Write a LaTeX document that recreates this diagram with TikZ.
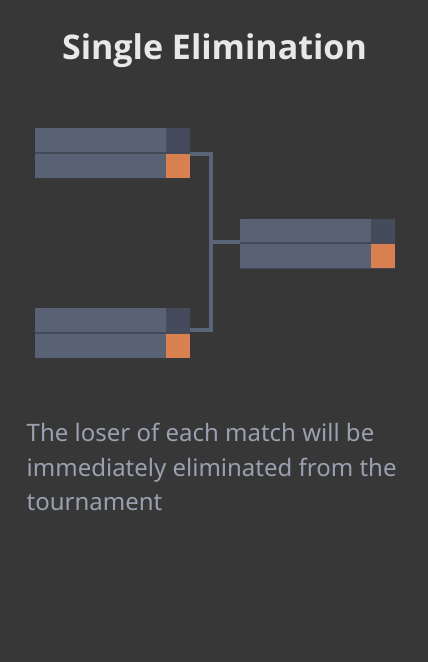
\documentclass[tikz,border=0pt]{standalone}
\usepackage{fontspec}
\setmainfont{Noto Sans}
\newfontfamily\titlefont{Open Sans}
\definecolor{bg}{HTML}{373737}
\definecolor{slot}{HTML}{596174}
\definecolor{scoredark}{HTML}{454B5A}
\definecolor{boxedge}{HTML}{454A58}
\definecolor{win}{HTML}{D8804F}
\definecolor{wire}{HTML}{5A6479}
\definecolor{titlec}{HTML}{E8E8E8}
\definecolor{bodyc}{HTML}{9AA0B0}
\tikzset{
  matchbox/.style={fill=boxedge, rounded corners=1pt, inner sep=0pt, minimum width=155pt, minimum height=50pt, anchor=north west},
  slotbox/.style={fill=slot, inner sep=0pt, minimum width=131pt, minimum height=23.5pt, anchor=north west},
  scorebox/.style={fill=scoredark, inner sep=0pt, minimum width=24pt, minimum height=23.5pt, anchor=north west},
  winbox/.style={fill=win, inner sep=0pt, minimum width=24pt, minimum height=23.7pt, anchor=north west},
  wireline/.style={draw=wire, line width=4pt},
  titletext/.style={text=titlec, font=\titlefont\bfseries\fontsize{34}{40}\selectfont, inner sep=0pt, anchor=base},
  bodytext/.style={text=bodyc, font=\fontsize{24}{30}\selectfont, inner sep=0pt, anchor=base west}
}
\begin{document}
\begin{tikzpicture}[x=1pt,y=-1pt]
\fill[bg] (0,0) rectangle (428,662);
\useasboundingbox (0,0) rectangle (428,662);
\node[titletext] (title) at (214.5,59.3) {Single Elimination};
% match 1
\node[matchbox] (m1) at (35,128) {};
\node[slotbox] (m1a) at (35,128) {};
\node[scorebox] (m1as) at (166,128) {};
\node[slotbox] (m1b) at (35,154) {};
\node[winbox] (m1bs) at (166,154) {};
% match 2
\node[matchbox] (m2) at (35,308) {};
\node[slotbox] (m2a) at (35,308) {};
\node[scorebox] (m2as) at (166,308) {};
\node[slotbox] (m2b) at (35,334) {};
\node[winbox] (m2bs) at (166,334) {};
% match 3
\node[matchbox] (m3) at (240,218.7) {};
\node[slotbox] (m3a) at (240,218.7) {};
\node[scorebox] (m3as) at (371,218.7) {};
\node[slotbox] (m3b) at (240,244.2) {};
\node[winbox] (m3bs) at (371,244.2) {};
% connectors
\coordinate (j) at (210.6,241.6);
\coordinate (j1) at (210.6,154);
\coordinate (j2) at (210.6,330.3);
\draw[wireline] (m1.east |- j1) -- (j1) -- (j2) -- (m2.east |- j2);
\draw[wireline] (j) -- (m3.west |- j);
% description
\node[bodytext] (l1) at (26.5,441.7) {The loser of each match will be};
\node[bodytext] (l2) at (26.5,476) {immediately eliminated from the};
\node[bodytext] (l3) at (26.5,510) {tournament};
\end{tikzpicture}
\end{document}
